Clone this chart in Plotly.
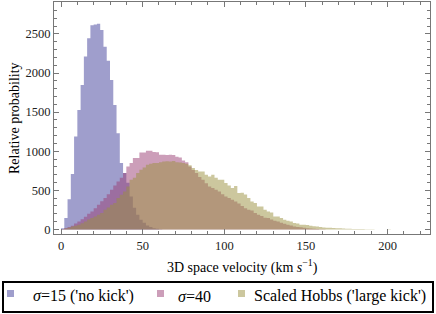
import numpy as np
import plotly.graph_objects as go

bin_width = 2.0
bin_start = 0.0

sigma15 = [13, 145, 387, 707, 1188, 1528, 1848, 2210, 2444, 2610, 2620, 2630, 2550, 2337,
           2158, 1912, 1592, 1230, 850, 720, 595, 420, 277, 188, 124, 85, 50, 30, 15, 8, 3]

sigma40 = [5, 17, 30, 47, 75, 101, 130, 162, 200, 230, 270, 315, 360, 400, 450, 507, 560,
           613, 660, 720, 805, 850, 912, 912, 984, 984, 1005, 1005, 990, 985, 955, 955, 950,
           955, 950, 930, 920, 880, 860, 805, 760, 720, 670, 635, 590, 549, 530, 507, 485,
           450, 421, 400, 380, 358, 330, 300, 270, 252, 240, 210, 188, 170, 150, 145, 125,
           110, 102, 85, 72, 60, 50, 38, 32, 26, 20, 13, 10, 8, 5, 3, 2]

hobbs = [3, 10, 20, 38, 48, 60, 80, 102, 125, 145, 165, 188, 210, 252, 280, 315, 336, 400,
         443, 485, 549, 635, 660, 720, 762, 790, 826, 840, 848, 850, 860, 869, 870, 869, 875,
         860, 855, 848, 840, 820, 784, 760, 741, 741, 699, 677, 700, 660, 635, 635, 592, 560,
         529, 555, 465, 470, 445, 400, 358, 337, 294, 294, 250, 230, 215, 166, 166, 145, 124,
         110, 102, 81, 75, 60, 60, 55, 47, 40, 38, 30, 25, 21, 21, 18, 13, 13, 10, 8, 8, 6, 5,
         5, 4, 3, 3, 2, 0, 0, 0, 0, 2]

names = ["<i>σ</i>=15 ('no kick')", "<i>σ</i>=40", "Scaled Hobbs ('large kick')"]
colors = ["rgba(63,61,153,0.5)", "rgba(153,61,116,0.5)", "rgba(153,144,61,0.5)"]

x_ticks = [0, 50, 100, 150, 200]
y_ticks = [0, 500, 1000, 1500, 2000, 2500]

W, H = 436, 314
ML, MR, MT, MB = 54, 6, 2, 80
PW, PH = W - ML - MR, H - MT - MB


def px2paper_x(px):
    return (px - ML) / PW


def px2paper_y(py):
    return (H - MB - py) / PH


fig = go.Figure()
for vals, name, col in zip([sigma15, sigma40, hobbs], names, colors):
    edges = bin_start + bin_width * np.arange(len(vals) + 1)
    yv = list(vals) + [vals[-1]]
    fig.add_trace(go.Scatter(x=edges, y=yv, name=name, mode="lines", line_shape="hv",
                             line=dict(width=0, color=col), fill="tozeroy",
                             fillcolor=col, showlegend=False, hoverinfo="skip"))

font = "Liberation Serif"

# legend (drawn as box + swatches + labels)
shapes = [dict(type="rect", xref="paper", yref="paper",
               x0=px2paper_x(3), x1=px2paper_x(433), y0=px2paper_y(312), y1=px2paper_y(282),
               line=dict(color="black", width=2), fillcolor="white", layer="above")]
annotations = []
sw_x = [7, 157, 238]
tx_x = [31, 176, 252]
for name, col, sx, tx in zip(names, colors, sw_x, tx_x):
    shapes.append(dict(type="rect", xref="paper", yref="paper",
                       x0=px2paper_x(sx), x1=px2paper_x(sx + 7),
                       y0=px2paper_y(297), y1=px2paper_y(290),
                       line=dict(width=0), fillcolor=col, layer="above"))
    annotations.append(dict(text=name, xref="paper", yref="paper", x=px2paper_x(tx),
                            y=px2paper_y(296), xanchor="left", yanchor="middle",
                            showarrow=False, font=dict(family=font, size=16, color="black")))

# axis titles
annotations.append(dict(text="3D space velocity (km <i>s</i><sup>−1</sup>)", xref="paper",
                        yref="paper", x=px2paper_x(242), y=px2paper_y(266), xanchor="center",
                        yanchor="middle", showarrow=False,
                        font=dict(family=font, size=14, color="black")))
annotations.append(dict(text="Relative probability", xref="paper", yref="paper",
                        x=px2paper_x(14), y=px2paper_y(118), xanchor="center",
                        yanchor="middle", textangle=-90, showarrow=False,
                        font=dict(family=font, size=14, color="black")))

axis_common = dict(showline=True, linecolor="#777", linewidth=1, mirror="ticks",
                   ticks="inside", ticklen=5, tickcolor="#777", showgrid=False,
                   zeroline=False, automargin=False,
                   tickfont=dict(family=font, size=12.5, color="#222"))
fig.update_layout(
    width=W, height=H,
    margin=dict(l=ML, r=MR, t=MT, b=MB, autoexpand=False),
    paper_bgcolor="white", plot_bgcolor="white",
    font=dict(family=font, size=13, color="black"),
    showlegend=False,
    xaxis=dict(range=[-4.3, 226], tickvals=x_ticks,
               minor=dict(ticks="inside", dtick=10, ticklen=3, tickcolor="#777"),
               **axis_common),
    yaxis=dict(range=[-59, 2908], tickvals=y_ticks,
               minor=dict(ticks="inside", dtick=100, ticklen=3, tickcolor="#777"),
               **axis_common),
    shapes=shapes, annotations=annotations,
)
fig.write_html("out.html", config={"displayModeBar": False, "staticPlot": True},
               post_script="document.body.style.margin='0';document.body.style.overflow='hidden';")
